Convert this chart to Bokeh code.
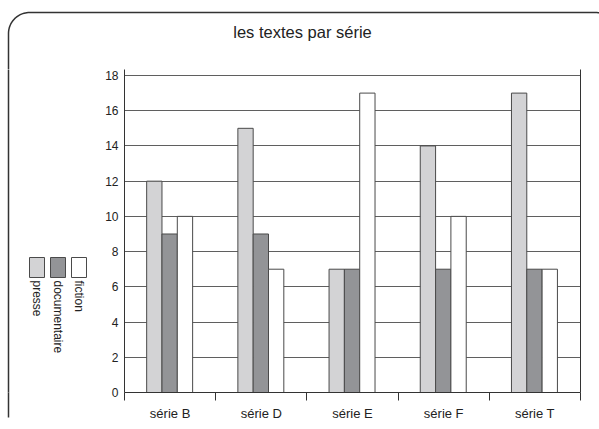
import math
from bokeh.plotting import figure
from bokeh.layouts import column, row
from bokeh.models import Range1d, FixedTicker, LinearAxis, ColumnDataSource
from bokeh.core.properties import value
from bokeh.embed import file_html
from bokeh.resources import INLINE

categories = ["série B", "série D", "série E", "série F", "série T"]
series_names = ["presse", "documentaire", "fiction"]
presse = [12, 15, 7, 14, 17]
documentaire = [9, 9, 7, 7, 7]
fiction = [10, 7, 17, 10, 7]
y_ticks = [0, 2, 4, 6, 8, 10, 12, 14, 16, 18]
colors = ["#d3d3d5", "#939497", "#ffffff"]
title_text = "les textes par série"

FONT = "Liberation Sans"
TEXT = "#222222"
EDGE = "#4a4a4a"
FRAME = "#333333"

W, H = 599, 429
TOP_H = 69          # strip above the plot frame
LEFT_W = 100        # strip left of the chart
BOTTOM = 37         # space below the plot frame
FRAME_BOTTOM = H - BOTTOM


def arc_pts(cx, cy, r, a0, a1, n=24):
    xs = [cx + r * math.cos(a0 + (a1 - a0) * k / n) for k in range(n + 1)]
    ys = [cy + r * math.sin(a0 + (a1 - a0) * k / n) for k in range(n + 1)]
    return xs, ys


R = 21
FL, FT, FR = 8, 12, 616

# ---- top strip: title and top of the rounded frame
top = figure(width=W, height=TOP_H, output_backend="svg", toolbar_location=None,
             x_range=Range1d(0, W), y_range=Range1d(TOP_H, 0),
             x_axis_location=None, y_axis_location=None, min_border=0,
             background_fill_color="white", border_fill_color="white")
top.grid.visible = False
top.outline_line_color = None
ax1, ay1 = arc_pts(FL + R, FT + R, R, math.pi, 1.5 * math.pi)
ax2, ay2 = arc_pts(FR - R, FT + R, R, 1.5 * math.pi, 2 * math.pi)
top.line(x=[FL] + ax1 + ax2 + [FR], y=[TOP_H + 2] + ay1 + ay2 + [TOP_H + 2],
         line_color=FRAME, line_width=1.5)
top.text(x=[302], y=[31], text=[title_text], text_font=value(FONT),
         text_font_size="16.5px", text_color=TEXT,
         text_align="center", text_baseline="middle")

# ---- left strip: legend and left side of the rounded frame
left = figure(width=LEFT_W, height=H - TOP_H, output_backend="svg", toolbar_location=None,
              x_range=Range1d(0, LEFT_W), y_range=Range1d(FRAME_BOTTOM, TOP_H),
              x_axis_location="below", y_axis_location=None,
              min_border_left=0, min_border_right=0, min_border_top=0,
              min_border_bottom=BOTTOM,
              background_fill_color="white", border_fill_color="white")
left.grid.visible = False
left.outline_line_color = None
left.line(x=[FL, FL], y=[TOP_H - 10, FRAME_BOTTOM + 2], line_color=FRAME, line_width=1.5)
la = left.xaxis[0]
la.ticker = FixedTicker(ticks=[FL])
la.axis_line_color = None
la.major_tick_in = 0
la.major_tick_out = 25
la.major_tick_line_color = FRAME
la.major_tick_line_width = 1.5
la.minor_tick_line_color = None
la.major_label_text_color = None
lx = [29, 50, 71]
left.quad(left=lx, right=[v + 15 for v in lx], top=[257] * 3, bottom=[277] * 3,
          fill_color=colors, line_color=EDGE, line_width=1)
left.text(x=[v + 7.5 for v in lx], y=[280] * 3, text=series_names, angle=-math.pi / 2,
          text_font=value(FONT), text_font_size="12px", text_color=TEXT,
          text_align="left", text_baseline="middle")

# ---- main chart
p = figure(width=W - LEFT_W, height=H - TOP_H, output_backend="svg", toolbar_location=None,
           x_range=Range1d(0, len(categories)), y_range=Range1d(0, 18.34),
           min_border_left=124 - LEFT_W, min_border_right=19,
           min_border_top=0, min_border_bottom=BOTTOM,
           background_fill_color="white", border_fill_color="white")
p.outline_line_color = None
p.xgrid.visible = False
p.ygrid.ticker = FixedTicker(ticks=y_ticks)
p.ygrid.grid_line_color = "#5f5f5f"
p.ygrid.grid_line_width = 1

bw = 0.168
offsets = [-bw, 0.0, bw]
for vals, off, col in zip([presse, documentaire, fiction], offsets, colors):
    src = ColumnDataSource(dict(x=[i + 0.495 + off for i in range(len(categories))], top=vals))
    p.vbar(x="x", top="top", bottom=0, width=bw, source=src,
           fill_color=col, line_color=EDGE, line_width=1)

xa = p.xaxis[0]
xa.ticker = FixedTicker(ticks=[i + 0.5 for i in range(len(categories))],
                        minor_ticks=list(range(len(categories) + 1)))
xa.major_label_overrides = {i + 0.5: c for i, c in enumerate(categories)}
xa.major_tick_out = 0
xa.major_tick_in = 0
xa.minor_tick_out = 8
xa.minor_tick_in = 0
xa.minor_tick_line_color = FRAME
xa.axis_line_color = FRAME
xa.major_label_standoff = 5
xa.major_label_text_font = FONT
xa.major_label_text_font_size = "13px"
xa.major_label_text_color = TEXT

ya = p.yaxis[0]
ya.ticker = FixedTicker(ticks=y_ticks)
ya.major_tick_out = 0
ya.major_tick_in = 0
ya.minor_tick_line_color = None
ya.axis_line_color = FRAME
ya.major_label_standoff = 6
ya.major_label_text_font = FONT
ya.major_label_text_font_size = "12px"
ya.major_label_text_color = TEXT

ra = LinearAxis(ticker=FixedTicker(ticks=[]), axis_line_color=FRAME,
                major_tick_line_color=None, minor_tick_line_color=None,
                major_label_text_color=None)
p.add_layout(ra, "right")

page = column(top, row(left, p, spacing=0), spacing=0)

open("out.html", "w").write(file_html(page, INLINE))
